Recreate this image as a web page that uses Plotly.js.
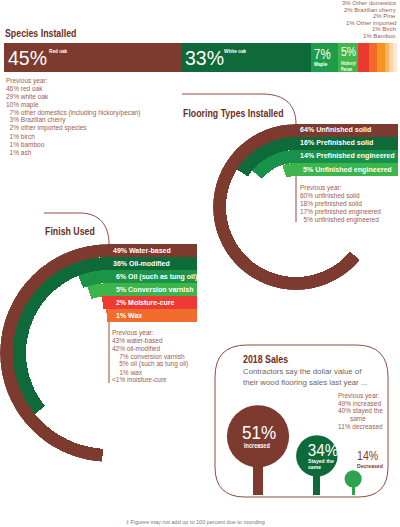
<!DOCTYPE html>
<html><head><meta charset="utf-8">
<script src="https://cdn.plot.ly/plotly-3.0.1.min.js"></script>
<style>html,body{margin:0;padding:0;background:#fff}#chart{width:400px;height:527px}</style>
</head><body><div id="chart"></div>
<script>
// ---------- DATA ----------
const speciesNames = ['Red oak','White oak','Maple','Hickory/Pecan','Other domestics','Brazilian cherry','Pine','Other imported','Birch','Bamboo'];
const speciesValues = [45,33,7,5,3,2,2,1,1,1];
const speciesPrev = ['Previous year:','46% red oak','29% white oak','10% maple',' 7% other domestics (including hickory/pecan)',' 3% Brazilian cherry',' 2% other imported species',' 1% birch',' 1% bamboo',' 1% ash'];

const flooringTypes = ['Unfinished solid','Prefinished solid','Prefinished engineered','Unfinished engineered'];
const flooringValues = [64,16,14,5];
const flooringPrev = ['Previous year:','60% unfinished solid','18% prefinished solid','17% prefinished engineered',' 5% unfinished engineered'];

const finishTypes = ['Water-based','Oil-modified','Oil (such as tung oil)','Conversion varnish','Moisture-cure','Wax'];
const finishValues = [49,36,6,5,2,1];
const finishPrev = ['Previous year:','43% water-based','42% oil-modified','  7% conversion varnish','  5% oil (such as tung oil)','  1% wax','<1% moisture-cure'];

const salesCats = ['Increased','Stayed the same','Decreased'];
const salesValues = [51,34,14];
const salesPrev = ['Previous year:','49% increased','40% stayed the','same','11% decreased'];

// ---------- STYLE ----------
const W = 400, H = 527;
const FONT = '"Liberation Sans", Arial, sans-serif';
const BROWN = '#7d3a2e', DKGREEN = '#0f6a3a', GREEN = '#1b9447', LTGREEN = '#3db54a', RED = '#ee3a33', ORANGE = '#f26d2d';
const TITLE = '#6b2d22', PREV = '#9b5c51', LINE = '#8f4d40';
const speciesColors = [BROWN, DKGREEN, '#1e9c49', '#41b649', '#ea3a30', '#f26a2b', '#f7941f', '#f9b466', '#fcd3a6', '#fde9d6'];
const flooringColors = [BROWN, DKGREEN, '#18924a', LTGREEN];
const finishColors = [BROWN, DKGREEN, GREEN, LTGREEN, RED, ORANGE];
const salesColors = [BROWN, DKGREEN, '#2ea24f'];

const px = x => x / W, py = y => 1 - y / H;
const nb = s => s.replace(/^ +/, m => '\u00a0'.repeat(m.length * 2));

const traces = [], annotations = [], squeeze = [], shapes = [];
function addAnn(a, sq) {
  const anchor = a.xanchor || 'left';
  a.align = anchor === 'right' ? 'right' : anchor === 'center' ? 'center' : 'left';
  a.showarrow = false;
  a.borderpad = 0;
  annotations.push(a); squeeze.push(sq || 1);
}
function ann(text, x, y, size, color, extra, sq) {
  addAnn(Object.assign({text, x: px(x), y: py(y), xref: 'paper', yref: 'paper',
    xanchor: 'left', yanchor: 'middle', font: {family: FONT, size, color}}, extra || {}), sq);
}
function lines(arr, x, y0, dy, size, color) {
  arr.forEach((t, i) => ann(nb(t), x, y0 + i * dy, size, color));
}

// ---------- SPECIES (stacked bar) ----------
speciesValues.forEach((v, i) => traces.push({type: 'bar', orientation: 'h', x: [v], y: [0], width: 1,
  xaxis: 'x', yaxis: 'y', marker: {color: speciesColors[i], line: {width: 0}}, hoverinfo: 'skip'}));
let cum = 0;
const starts = speciesValues.map(v => { const s = cum; cum += v; return s; });
function barAnn(text, i, xshift, y, size, sq) {
  addAnn({text, x: starts[i], xref: 'x', xshift, y: py(y), yref: 'paper', xanchor: 'left', yanchor: 'middle',
    font: {family: FONT, size, color: '#fff'}}, sq);
}
[0, 1].forEach(i => {
  barAnn(speciesValues[i] + '%', i, 3, 58, 19.5);
  barAnn('<b>' + speciesNames[i] + '</b>', i, i === 0 ? 44 : 42.5, 51.5, 6, 0.78);
});
barAnn(speciesValues[2] + '%', 2, 2, 54.5, 14, 0.82);
barAnn(speciesValues[3] + '%', 3, 2, 52, 12, 0.88);
barAnn('<b>' + speciesNames[2] + '</b>', 2, 2, 64, 5.5, 0.85);
speciesNames[3].split('/').forEach((part, k) =>
  barAnn('<b>' + part + (k === 0 ? '/' : '') + '</b>', 3, 2, 63 + k * 5.5, 5, 0.75));
for (let i = 4; i < speciesNames.length; i++) {
  ann(speciesValues[i] + '% ' + speciesNames[i], 397, 3 + (i - 4) * 6.5, 6, PREV, {xanchor: 'right'});
}
ann('<b>Species Installed</b>', 4, 33, 11, TITLE, {}, 0.8);
lines(speciesPrev, 5, 81, 7.9, 6.5, PREV);

// ---------- RADIAL BAR helper ----------
function radial(values, names, colors, polarId, cx, cy, R, band, barRight, txtSize) {
  const base = values.map((v, i) => R - band * (i + 1));
  traces.push({type: 'barpolar', subplot: polarId, r: values.map(() => band), base,
    theta: values.map(v => v * 1.8), width: values.map(v => v * 3.6),
    marker: {color: colors, line: {width: 0}}, hoverinfo: 'skip'});
  values.forEach((v, i) => {
    const y0 = cy - R + band * i;
    shapes.push({type: 'rect', xref: 'paper', yref: 'paper', x0: px(cx), x1: px(barRight), y0: py(y0), y1: py(y0 + band),
      fillcolor: colors[i], line: {width: 0}, layer: 'below'});
    ann('<b>' + v + '% ' + names[i] + '</b>', cx + (v < 10 ? 6 : 3), y0 + band / 2, txtSize, '#fff');
  });
}

// ---------- FLOORING ----------
const fC = {x: 296, y: 207, R: 83, band: 13};
radial(flooringValues, flooringTypes, flooringColors, 'polar', fC.x, fC.y, fC.R, fC.band, 398, 7.1);
ann('<b>Flooring Types Installed</b>', 182, 113, 11, TITLE, {}, 0.8);
lines(flooringPrev, 299, 188, 8, 6.5, PREV);
shapes.push({type: 'path', xref: 'paper', yref: 'paper', line: {color: LINE, width: 1},
  path: `M ${px(182)},${py(94)} L ${px(262)},${py(94)} C ${px(286)},${py(94)} ${px(296)},${py(106)} ${px(296)},${py(124)}`});
shapes.push({type: 'line', xref: 'paper', yref: 'paper', x0: px(296), x1: px(296), y0: py(176), y1: py(222), line: {color: LINE, width: 1}});

// ---------- FINISH ----------
const nC = {x: 109, y: 353, R: 109, band: 13};
radial(finishValues, finishTypes, finishColors, 'polar2', nC.x, nC.y, nC.R, nC.band, 197, 7);
ann('<b>Finish Used</b>', 44, 231, 11, TITLE, {}, 0.8);
lines(finishPrev, 111, 333, 7.8, 6.5, PREV);
shapes.push({type: 'path', xref: 'paper', yref: 'paper', line: {color: LINE, width: 1},
  path: `M ${px(44)},${py(213)} L ${px(80)},${py(213)} C ${px(100)},${py(213)} ${px(109)},${py(226)} ${px(109)},${py(244)}`});
shapes.push({type: 'line', xref: 'paper', yref: 'paper', x0: px(109), x1: px(109), y0: py(322), y1: py(383), line: {color: LINE, width: 1}});

// ---------- SALES (lollipops) ----------
const rad = salesValues.map(v => v * 0.61);
const sx = [];
rad.forEach((r, i) => sx.push(i === 0 ? 258 : sx[i - 1] + rad[i - 1] + r + 7));
traces.push({type: 'bar', x: sx, y: salesValues, width: salesValues.map(v => v * 0.21), xaxis: 'x2', yaxis: 'y2',
  marker: {color: salesColors, line: {width: 0}}, hoverinfo: 'skip'});
traces.push({type: 'scatter', mode: 'markers', x: sx, y: salesValues, xaxis: 'x2', yaxis: 'y2',
  marker: {size: salesValues.map(v => v * 1.22), color: salesColors, opacity: 1, line: {width: 0}}, hoverinfo: 'skip'});
function salesAnn(text, i, xshift, yshift, size, color, xanchor, sq) {
  addAnn({text, x: sx[i], y: salesValues[i], xref: 'x2', yref: 'y2', xshift, yshift, xanchor, yanchor: 'middle',
    font: {family: FONT, size, color}}, sq);
}
salesAnn(salesValues[0] + '%', 0, 1, 4, 19, '#fff', 'center', 0.9);
salesAnn('<b>' + salesCats[0] + '</b>', 0, -15, -9, 6.5, '#fff', 'left', 0.85);
salesAnn(salesValues[1] + '%', 1, 6, 5, 16, '#fff', 'center', 0.95);
salesCats[1].replace('the ', 'the|').split('|').forEach((part, k) =>
  salesAnn('<b>' + part.trim() + '</b>', 1, -10, -5 - k * 6, 6, '#fff', 'left', 0.85));
salesAnn(salesValues[2] + '%', 2, 3, 23, 12.5, BROWN, 'left', 0.85);
salesAnn('<b>' + salesCats[2] + '</b>', 2, 3, 12.5, 6, BROWN, 'left', 0.85);
ann('<b>2018 Sales</b>', 242, 359, 11, TITLE, {}, 0.8);
ann('Contractors say the dollar value of', 242, 371, 7.8, '#6f6360');
ann('their wood flooring sales last year ...', 242, 382, 7.8, '#6f6360');
salesPrev.forEach((t, i) => ann(t, t === 'same' ? 358 : 337, 396 + i * 7.6, 6.5, PREV, t === 'same' ? {xanchor: 'center'} : {}));
shapes.push({type: 'path', xref: 'paper', yref: 'paper', line: {color: LINE, width: 1}, layer: 'below',
  path: `M ${px(247)},${py(345)} L ${px(356)},${py(345)} Q ${px(388)},${py(345)} ${px(388)},${py(377)} L ${px(388)},${py(467)} Q ${px(388)},${py(497)} ${px(358)},${py(497)} L ${px(245)},${py(497)} Q ${px(215)},${py(497)} ${px(215)},${py(467)} L ${px(215)},${py(377)} Q ${px(215)},${py(345)} ${px(247)},${py(345)} Z`});

// footer
ann('‡ Figures may not add up to 100 percent due to rounding', 195, 522, 5.5, '#777', {xanchor: 'center'});

const hiddenPolar = (cx, cy, R) => ({
  domain: {x: [px(cx - R), px(cx + R)], y: [py(cy + R), py(cy - R)]}, bgcolor: 'rgba(0,0,0,0)',
  radialaxis: {visible: false, range: [0, R]},
  angularaxis: {visible: false, direction: 'counterclockwise', rotation: 90}
});

const layout = {
  width: W, height: H, margin: {l: 0, r: 0, t: 0, b: 0}, paper_bgcolor: '#fff', plot_bgcolor: 'rgba(0,0,0,0)',
  showlegend: false, barmode: 'stack', font: {family: FONT},
  xaxis: {domain: [px(4), px(397)], range: [0, 100], visible: false, fixedrange: true},
  yaxis: {domain: [py(72), py(43)], range: [-0.5, 0.5], visible: false, fixedrange: true},
  xaxis2: {domain: [px(215), px(388)], range: [215, 388], visible: false, anchor: 'y2'},
  yaxis2: {domain: [py(495), py(391.5)], range: [0, 90], visible: false, anchor: 'x2'},
  polar: hiddenPolar(fC.x, fC.y, fC.R),
  polar2: hiddenPolar(nC.x, nC.y, nC.R),
  shapes, annotations
};
Plotly.newPlot('chart', traces, layout, {staticPlot: true, displayModeBar: false}).then(gd => {
  // condensed look: compress selected texts horizontally (text stays real text)
  gd.querySelectorAll('.annotation').forEach(g => {
    const i = +g.getAttribute('data-index');
    const k = squeeze[i];
    if (!k || k === 1) return;
    const t = g.querySelector('.annotation-text');
    if (!t) return;
    const L = t.getComputedTextLength();
    t.setAttribute('textLength', (L * k).toFixed(2));
    t.setAttribute('lengthAdjust', 'spacingAndGlyphs');
  });
});
</script></body></html>
